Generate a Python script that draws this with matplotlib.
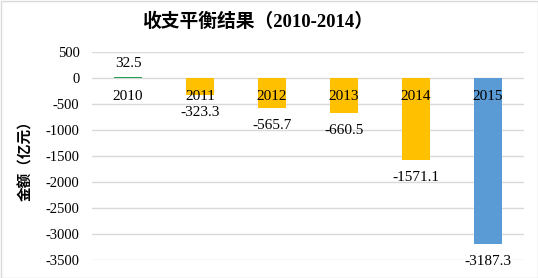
import matplotlib
matplotlib.use("Agg")
import matplotlib.pyplot as plt
from matplotlib.patches import Rectangle

# data
years = ["2010", "2011", "2012", "2013", "2014", "2015"]
balance = [32.5, -323.3, -565.7, -660.5, -1571.1, -3187.3]
bar_colors = ["#21A052", "#FFC000", "#FFC000", "#FFC000", "#FFC000", "#5B9BD5"]
yticks = [500, 0, -500, -1000, -1500, -2000, -2500, -3000, -3500]

serif = ["Liberation Serif", "Noto Sans CJK SC"]
plt.rcParams["font.family"] = serif

fig = plt.figure(figsize=(5.38, 2.78), dpi=100)
ax = fig.add_axes([92 / 538, 1 - 260.3 / 278, (524 - 92) / 538, (260.3 - 52.3) / 278])

x = range(len(years))
ax.bar(x, balance, width=0.4, color=bar_colors, zorder=2)

ax.set_ylim(-3500, 500)
ax.set_xlim(-0.5, len(years) - 0.5)
ax.set_yticks(yticks)
ax.set_yticklabels([str(v) for v in yticks], fontsize=10.5)
ax.set_xticks([])
ax.tick_params(axis="y", length=0, pad=9)
ax.grid(axis="y", color="#D9D9D9", linewidth=1, zorder=0)
for s in ax.spines.values():
    s.set_visible(False)

# category labels just under the zero line
for i, yr in enumerate(years):
    ax.annotate(yr, (i, 0), xytext=(0, -13), textcoords="offset points",
                ha="center", va="center", fontsize=11, zorder=3)

# value labels
for i, v in enumerate(balance):
    off = 9.5 if v > 0 else -12.5
    ax.annotate(f"{v:g}", (i, v), xytext=(0, off), textcoords="offset points",
                ha="center", va="center", fontsize=11, zorder=3)

fig.text(258 / 538, 1 - 22 / 278, "收支平衡结果（2010-2014）", ha="center", va="center",
         fontsize=13.5, fontweight="bold", family=serif)
fig.text(25 / 538, 1 - 157 / 278, "金额（亿元）", rotation=90, ha="center", va="center",
         fontsize=10.5, fontweight="bold", family=["Noto Sans CJK SC"])

fig.patches.append(Rectangle((0.5 / 538, 0.5 / 278), 537 / 538, 277 / 278,
                             transform=fig.transFigure, fill=False,
                             edgecolor="#D9D9D9", linewidth=1))

fig.savefig("out.png", dpi=100)
